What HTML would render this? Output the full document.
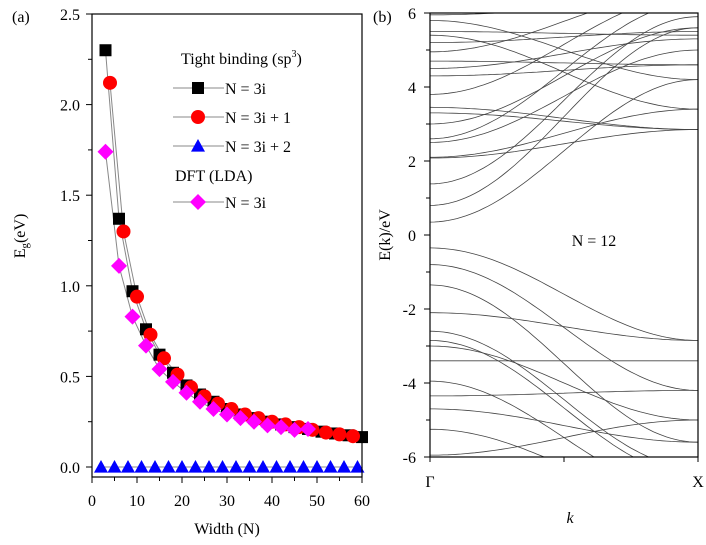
<!DOCTYPE html>
<html><head><meta charset="utf-8"><style>
body{margin:0;background:#fff;}
svg{display:block;font-family:"Liberation Serif",serif;}
</style></head><body>
<svg id="fig" width="706" height="545">
<g id="left"></g>
<g id="right"></g>
</svg>
<script>
const sqN=[3,6,9,12,15,18,21,24,27,30,33,36,39,42,45,48,51,54,57,60];
const sqE=[2.30,1.37,0.97,0.76,0.62,0.52,0.45,0.40,0.36,0.32,0.29,0.27,0.25,0.235,0.22,0.21,0.195,0.185,0.175,0.165];
const ciN=[4,7,10,13,16,19,22,25,28,31,34,37,40,43,46,49,52,55,58];
const ciE=[2.12,1.30,0.94,0.73,0.60,0.51,0.44,0.39,0.35,0.32,0.29,0.27,0.25,0.235,0.22,0.205,0.19,0.18,0.17];
const trN=[2,5,8,11,14,17,20,23,26,29,32,35,38,41,44,47,50,53,56,59];
const trE=[0,0,0,0,0,0,0,0,0,0,0,0,0,0,0,0,0,0,0,0];
const diN=[3,6,9,12,15,18,21,24,27,30,33,36,39,42,45,48];
const diE=[1.74,1.11,0.83,0.67,0.54,0.47,0.41,0.36,0.32,0.29,0.27,0.25,0.23,0.22,0.205,0.21];
const xTicks=[0,10,20,30,40,50,60];
const yTicks=[0,0.5,1.0,1.5,2.0,2.5];
const bandStart=[0.35,0.8,1.38,2.08,2.1,2.5,2.6,3.0,3.3,3.45,3.8,4.3,4.5,4.7,4.95,5.2,5.4,5.5,5.8,5.95,
 -0.35,-0.8,-1.35,-2.1,-2.6,-2.85,-3.0,-3.4,-3.95,-4.35,-4.7,-5.25,-5.95];
const bandEnd=[4.2,5.6,5.9,2.85,3.4,5.0,6.3,5.6,2.85,2.85,6.5,4.6,5.3,4.6,6.6,5.5,3.4,5.4,4.2,6.3,
 -2.85,-4.2,-5.6,-2.85,-6.3,-6.5,-5.0,-3.4,-7.0,-4.2,-5.6,-7.2,-5.0];
const eTicks=[-6,-4,-2,0,2,4,6];
const NS="http://www.w3.org/2000/svg";
const FS=16;
function el(p,t,a){const e=document.createElementNS(NS,t);for(const k in a)e.setAttribute(k,a[k]);p.appendChild(e);return e;}
const L=document.getElementById('left');
const x0=92,x1=362,yTop=14,yBot=477;
const X=v=>x0+(x1-x0)*v/60;
const Y=v=>467-(467-14)*v/2.5;
function poly(ns,es){let d=ns.map((n,i)=>(i?'L':'M')+X(n)+','+Y(es[i])).join('');const p=el(L,'path',{d:d,stroke:'#888',fill:'none','stroke-width':1});}
poly(sqN,sqE);poly(ciN,ciE);poly(diN,diE);
el(L,'line',{x1:X(trN[0]),x2:X(trN[trN.length-1]),y1:Y(0),y2:Y(0),stroke:'#888'});
function sq(x,y,s){const r=el(L,'rect',{x:x-s,y:y-s,width:2*s,height:2*s,fill:'#000'});}
function ci(x,y,s){const c=el(L,'circle',{cx:x,cy:y,r:s,fill:'#f00'});}
function tr(x,y,s){const t=el(L,'path',{d:`M${x},${y-s}L${x+s},${y+s*0.8}L${x-s},${y+s*0.8}Z`,fill:'#00f'});}
function di(x,y,s){const t=el(L,'path',{d:`M${x},${y-s}L${x+s},${y}L${x},${y+s}L${x-s},${y}Z`,fill:'#f0f'});}
sqN.forEach((n,i)=>sq(X(n),Y(sqE[i]),6));
ciN.forEach((n,i)=>ci(X(n),Y(ciE[i]),7));
trN.forEach((n,i)=>tr(X(n),Y(trE[i]),7));
diN.forEach((n,i)=>di(X(n),Y(diE[i]),8));
el(L,'rect',{x:x0,y:yTop,width:x1-x0,height:yBot-yTop,fill:'none',stroke:'#000','stroke-width':1.2});
xTicks.forEach(t=>{el(L,'line',{x1:X(t),x2:X(t),y1:yBot,y2:yBot+6,stroke:'#000'});const tx=el(L,'text',{x:X(t),y:yBot+29,'text-anchor':'middle','font-size':FS});tx.textContent=t;});
for(let t=5;t<60;t+=10)el(L,'line',{x1:X(t),x2:X(t),y1:yBot,y2:yBot+4,stroke:'#000'});
yTicks.forEach(t=>{el(L,'line',{x1:x0-6,x2:x0,y1:Y(t),y2:Y(t),stroke:'#000'});const tx=el(L,'text',{x:x0-12,y:Y(t)+6,'text-anchor':'end','font-size':FS});tx.textContent=t.toFixed(1);});
for(let t=0.25;t<2.5;t+=0.5)el(L,'line',{x1:x0-4,x2:x0,y1:Y(t),y2:Y(t),stroke:'#000'});
let t1=el(L,'text',{x:227,y:534,'text-anchor':'middle','font-size':FS});t1.textContent='Width (N)';
let t2=el(L,'text',{x:0,y:0,'text-anchor':'middle','font-size':FS,transform:'translate(25,236) rotate(-90)'});t2.innerHTML='E<tspan font-size="11" dy="3">g</tspan><tspan dy="-3">(eV)</tspan>';
let t3=el(L,'text',{x:12,y:22,'font-size':FS});t3.textContent='(a)';
let lg=el(L,'g',{});
let h1=el(lg,'text',{x:181,y:64,'font-size':FS});h1.innerHTML='Tight binding (sp<tspan font-size="10" dy="-7">3</tspan><tspan dy="7">)</tspan>';
let h2=el(lg,'text',{x:175,y:181,'font-size':FS});h2.textContent='DFT (LDA)';
const legs=[['N = 3i',88,sq,6],['N = 3i + 1',117,ci,7],['N = 3i + 2',146,tr,7],['N = 3i',202,di,8]];
legs.forEach(([lab,y,f,s])=>{el(lg,'line',{x1:173,x2:224,y1:y,y2:y,stroke:'#888'});f(198,y,s);const t=el(lg,'text',{x:225,y:y+6,'font-size':FS});t.textContent=lab;});

const R=document.getElementById('right');
const rx0=430,rx1=698,ry0=13,ry1=457;
const EY=v=>235-(235-13)*v/6;
const KX=k=>rx0+(rx1-rx0)*k;
const cp=el(R,'clipPath',{id:'cp'});el(cp,'rect',{x:rx0,y:ry0,width:rx1-rx0,height:ry1-ry0});
const bg=el(R,'g',{'clip-path':'url(#cp)'});
bandStart.forEach((s,i)=>{const e=bandEnd[i];let d='';for(let j=0;j<=60;j++){const k=j/60;const v=(s+e)/2+(s-e)/2*Math.cos(Math.PI*k);d+=(j?'L':'M')+KX(k).toFixed(1)+','+EY(v).toFixed(1);}
const p=el(bg,'path',{d:d,stroke:'#444',fill:'none','stroke-width':0.8});});
el(R,'rect',{x:rx0,y:ry0,width:rx1-rx0,height:ry1-ry0,fill:'none',stroke:'#000','stroke-width':1.2});
eTicks.forEach(t=>{el(R,'line',{x1:rx0-6,x2:rx0,y1:EY(t),y2:EY(t),stroke:'#000'});const tx=el(R,'text',{x:rx0-14,y:EY(t)+6,'text-anchor':'end','font-size':FS});tx.textContent=t;});
for(let t=-5;t<6;t+=2)el(R,'line',{x1:rx0-4,x2:rx0,y1:EY(t),y2:EY(t),stroke:'#000'});
[0,0.5,1].forEach(k=>el(R,'line',{x1:KX(k),x2:KX(k),y1:ry1,y2:ry1+5,stroke:'#000'}));
let g1=el(R,'text',{x:rx0,y:487,'text-anchor':'middle','font-size':FS});g1.textContent='Γ';
let g2=el(R,'text',{x:rx1,y:487,'text-anchor':'middle','font-size':FS});g2.textContent='X';
let k1=el(R,'text',{x:570,y:523,'text-anchor':'middle','font-size':FS,'font-style':'italic'});k1.textContent='k';
let k2=el(R,'text',{x:0,y:0,'text-anchor':'middle','font-size':FS,transform:'translate(390,235) rotate(-90)'});k2.textContent='E(k)/eV';
let k3=el(R,'text',{x:594,y:246,'text-anchor':'middle','font-size':FS});k3.textContent='N = 12';
let k4=el(R,'text',{x:373,y:22,'font-size':FS});k4.textContent='(b)';
</script>
</body></html>
